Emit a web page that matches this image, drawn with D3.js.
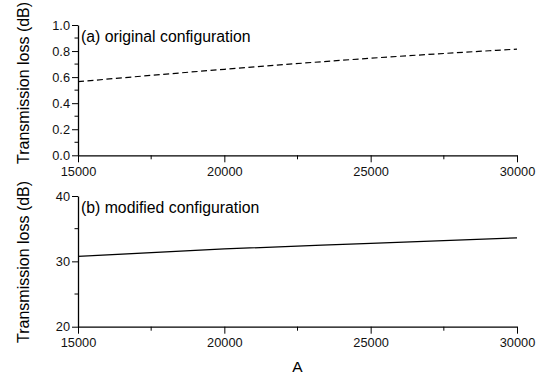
<!DOCTYPE html>
<html>
<head>
<meta charset="utf-8">
<script src="https://cdn.jsdelivr.net/npm/d3@7"></script>
<style>
  body { margin: 0; background: #fff; }
  svg { font-family: Arial, "Liberation Sans", sans-serif; }
</style>
</head>
<body>
<svg id="chart" width="547" height="375"></svg>
<script>
// data
const aValues = [15000, 20000, 25000, 30000];
const lossOriginal = [0.565, 0.66, 0.745, 0.815];
const lossModified = [30.75, 31.9, 32.75, 33.6];
const xTicks = [15000, 20000, 25000, 30000];
const yTicksTop = [0, 0.2, 0.4, 0.6, 0.8, 1.0];
const yTicksBottom = [20, 30, 40];

const svg = d3.select("#chart");
const x = d3.scaleLinear().domain([15000, 30000]).range([78, 517]);

const panels = [
  { top: 25, bottom: 155.3, domain: [0, 1], ticks: yTicksTop, minor: d3.range(0.1, 1, 0.2),
    fmt: d3.format(".1f"), values: lossOriginal, dash: "6,3.5", label: "(a) original configuration",
    labelY: 164 },
  { top: 196, bottom: 326.7, domain: [20, 40], ticks: yTicksBottom, minor: [25, 35],
    fmt: d3.format("d"), values: lossModified, dash: null, label: "(b) modified configuration",
    labelY: 343 }
];

panels.forEach(p => {
  const y = d3.scaleLinear().domain(p.domain).range([p.bottom, p.top]);
  const g = svg.append("g");

  // x axis
  const xAxis = g.append("g").attr("transform", `translate(0,${p.bottom})`);
  xAxis.call(d3.axisBottom(x).tickValues(xTicks).tickSize(7).tickSizeOuter(0).tickFormat(d3.format("d")));
  xAxis.append("g").selectAll("line").data([17500, 22500, 27500]).enter().append("line")
    .attr("x1", d => x(d)).attr("x2", d => x(d)).attr("y1", 0).attr("y2", 4)
    .attr("stroke", "#000");

  // y axis
  const yAxis = g.append("g").attr("transform", `translate(${x(15000)},0)`);
  yAxis.call(d3.axisLeft(y).tickValues(p.ticks).tickSize(6).tickSizeOuter(0).tickFormat(p.fmt));
  yAxis.append("g").selectAll("line").data(p.minor).enter().append("line")
    .attr("y1", d => y(d)).attr("y2", d => y(d)).attr("x1", 0).attr("x2", -3.5)
    .attr("stroke", "#000");

  [xAxis, yAxis].forEach(a => {
    a.select(".domain").attr("stroke", "#000").attr("stroke-width", 1.3);
    a.selectAll(".tick line").attr("stroke", "#000");
    a.selectAll(".tick text").attr("font-size", 12.8).attr("fill", "#111")
      .attr("font-family", "Arial, 'Liberation Sans', sans-serif");
  });
  xAxis.selectAll(".tick text").attr("dy", "0.75em").attr("y", 11);
  yAxis.selectAll(".tick text").attr("x", -8);

  // curve
  const line = d3.line().x((d, i) => x(aValues[i])).y(d => y(d)).curve(d3.curveMonotoneX);
  g.append("path").datum(p.values).attr("d", line)
    .attr("fill", "none").attr("stroke", "#000").attr("stroke-width", 1.2)
    .attr("stroke-dasharray", p.dash);

  // panel title
  g.append("text").attr("x", 81).attr("y", p.top + 17).attr("font-size", 15.8)
    .attr("fill", "#000").text(p.label);

  // y label
  g.append("text").attr("transform", `translate(29,${p.labelY}) rotate(-90)`)
    .attr("text-anchor", "start").attr("font-size", 16).attr("fill", "#000")
    .text("Transmission loss (dB)");
});

svg.append("text").attr("x", x(22500)).attr("y", 372).attr("text-anchor", "middle")
  .attr("font-size", 15.5).attr("fill", "#000").text("A");
</script>
</body>
</html>
